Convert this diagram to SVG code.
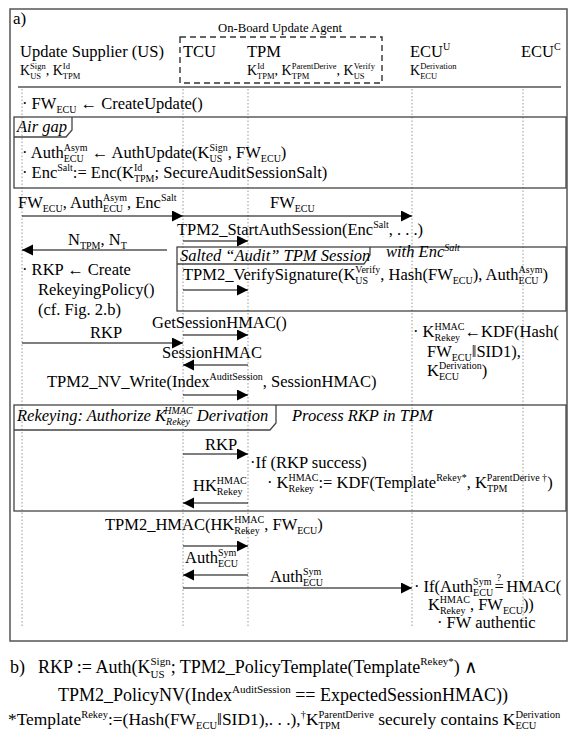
<svg xmlns="http://www.w3.org/2000/svg" width="579" height="745" viewBox="0 0 579 745">
<defs>
<style>
text { font-family: "Liberation Serif", "DejaVu Serif", serif; fill: #000; }
.m { font-size: 16.5px; }
.s { font-size: 10px; }
.h { font-size: 14px; }
.hs { font-size: 8.5px; }
.i { font-style: italic; }
.b { font-size: 18px; }
.bs { font-size: 11px; }
.f { font-size: 17.4px; }
.fs { font-size: 10.5px; }
.life { stroke: #999; stroke-width: 1; stroke-dasharray: 1.5 2; fill: none; }
.msg { stroke: #000; stroke-width: 1.2; fill: none; marker-end: url(#ah); }
.box { fill: none; stroke: #444; stroke-width: 1.3; }
</style>
<marker id="ah" markerUnits="userSpaceOnUse" markerWidth="12" markerHeight="12" refX="11" refY="5.5" orient="auto">
<path d="M0,0 L11,5.5 L0,11 z" fill="#000"/>
</marker>
</defs>
<rect width="579" height="745" fill="#fff"/>

<g id="frame">
<rect x="10" y="9" width="557" height="632" fill="none" stroke="#555" stroke-width="1.5"/>
<text class="m" x="13" y="24" style="font-size:17px">a)</text>
<line x1="18" y1="87" x2="561" y2="87" stroke="#000" stroke-width="1.2"/>
</g>

<g id="lifelines">
<line class="life" x1="22" y1="89" x2="22" y2="628"/>
<line class="life" x1="183" y1="89" x2="183" y2="628"/>
<line class="life" x1="248" y1="89" x2="248" y2="628"/>
<line class="life" x1="412" y1="89" x2="412" y2="628"/>
<line class="life" x1="523" y1="89" x2="523" y2="628"/>
</g>

<g id="node-us">
<text class="m" x="20" y="57">Update Supplier (US)</text>
<text class="h" x="20" y="75">K<tspan class="hs" dy="3.5">US</tspan><tspan class="hs" dx="-10.9" dy="-9.5">Sign</tspan><tspan dy="6">, K</tspan><tspan class="hs" dy="-6">Id</tspan><tspan class="hs" dx="-7.1" dy="9.5">TPM</tspan></text>
</g>

<g id="node-oba">
<rect x="180" y="37" width="202" height="46" fill="none" stroke="#333" stroke-width="1.4" stroke-dasharray="6 4"/>
<text x="218" y="32" style="font-size:12.7px">On-Board Update Agent</text>
</g>

<g id="node-tcu">
<text class="m" x="183" y="57">TCU</text>
</g>

<g id="node-tpm">
<text class="m" x="247" y="57">TPM</text>
<text class="h" x="247" y="75">K<tspan class="hs" dy="-6">Id</tspan><tspan class="hs" dx="-7.1" dy="9.5">TPM</tspan><tspan dy="-3.5">, K</tspan><tspan class="hs" dy="3.5">TPM</tspan><tspan class="hs" dx="-17.5" dy="-9.5">ParentDerive</tspan><tspan dy="6">, K</tspan><tspan class="hs" dy="3.5">US</tspan><tspan class="hs" dx="-10.9" dy="-9.5">Verify</tspan></text>
</g>

<g id="node-ecuu">
<text class="m" x="410" y="57">ECU<tspan class="s" dy="-7">U</tspan></text>
<text class="h" x="410" y="75">K<tspan class="hs" dy="3.5">ECU</tspan><tspan class="hs" dx="-17" dy="-9.5">Derivation</tspan></text>
</g>

<g id="node-ecuc">
<text class="m" x="521" y="57">ECU<tspan class="s" dy="-7">C</tspan></text>
</g>

<g id="step-create">
<text class="m" x="22" y="109">· FW<tspan class="s" dy="4">ECU</tspan><tspan dy="-4"> ← CreateUpdate()</tspan></text>
</g>

<g id="frame-airgap">
<rect class="box" x="14" y="117" width="552" height="71"/>
<path class="box" d="M14,137 H66 L72,130 V117"/>
<text class="m i" x="17" y="132">Air gap</text>
<text class="m" x="22" y="158">· Auth<tspan class="s" dy="4">ECU</tspan><tspan class="s" dx="-20" dy="-11">Asym</tspan><tspan dy="7"> ← AuthUpdate(K</tspan><tspan class="s" dy="4">US</tspan><tspan class="s" dx="-12.8" dy="-11">Sign</tspan><tspan dy="7">, FW</tspan><tspan class="s" dy="4">ECU</tspan><tspan dy="-4">)</tspan></text>
<text class="m" x="22" y="178">· Enc<tspan class="s" dy="-7">Salt</tspan><tspan dy="7">:= Enc(K</tspan><tspan class="s" dy="-7">Id</tspan><tspan class="s" dx="-8.3" dy="11">TPM</tspan><tspan dy="-4">; SecureAuditSessionSalt)</tspan></text>
</g>

<g id="frame-salted">
<rect class="box" x="177" y="247" width="389" height="64"/>
<path class="box" d="M177,264 H364 L370,255 V247"/>
<text class="m i" x="180" y="261">Salted “Audit” TPM Session</text>
<text class="m i" x="386" y="257">with Enc<tspan class="s" dy="-6.5">Salt</tspan></text>
</g>

<g id="step-rkp">
<text class="m" x="22" y="275">· RKP ← Create</text>
<text class="m" x="38" y="295">RekeyingPolicy()</text>
<text class="m" x="38" y="315">(cf. Fig. 2.b)</text>
</g>

<g id="step-kdf-ecu">
<text class="m" x="413" y="337">· K<tspan class="s" dy="4">Rekey</tspan><tspan class="s" dx="-25.6" dy="-11">HMAC</tspan><tspan dy="7">←KDF(Hash(</tspan></text>
<text class="m" x="427" y="357">FW<tspan class="s" dy="4">ECU</tspan><tspan dy="-4">‖SID1),</tspan></text>
<text class="m" x="427" y="376">K<tspan class="s" dy="4">ECU</tspan><tspan class="s" dx="-20" dy="-11">Derivation</tspan><tspan dy="7">)</tspan></text>
</g>

<g id="frame-rekeying">
<rect class="box" x="14" y="405" width="552" height="106"/>
<path class="box" d="M14,430 H270 L276,423 V405"/>
<text class="m i" x="17" y="421">Rekeying: Authorize K<tspan class="s" dy="4">Rekey</tspan><tspan class="s" dx="-25.6" dy="-11">HMAC</tspan><tspan dy="7"> Derivation</tspan></text>
<text class="m i" x="292" y="421">Process RKP in TPM</text>
<text class="m" x="250" y="468">·If (RKP success)</text>
<text class="m" x="267" y="488">· K<tspan class="s" dy="4">Rekey</tspan><tspan class="s" dx="-25.6" dy="-11">HMAC</tspan><tspan dy="7">:= KDF(Template</tspan><tspan class="s" dy="-7">Rekey*</tspan><tspan dy="7">, K</tspan><tspan class="s" dy="4">TPM</tspan><tspan class="s" dx="-20.6" dy="-11">ParentDerive †</tspan><tspan dy="7">)</tspan></text>
</g>

<g id="step-verify-ecu">
<text class="m" x="414" y="592">· If(Auth<tspan class="s" dy="4">ECU</tspan><tspan class="s" dx="-20" dy="-11">Sym</tspan><tspan dy="7" dx="3">=</tspan><tspan class="s" dx="-7" dy="-11">?</tspan><tspan dy="11" dx="5">HMAC(</tspan></text>
<text class="m" x="428" y="610">K<tspan class="s" dy="4">Rekey</tspan><tspan class="s" dx="-25.6" dy="-11">HMAC</tspan><tspan dy="7">, FW</tspan><tspan class="s" dy="4">ECU</tspan><tspan dy="-4">))</tspan></text>
<text class="m" x="437" y="628">· FW authentic</text>
</g>

<g id="connectors">
<line class="msg" x1="22" y1="216" x2="183" y2="216"/>
<text class="m" x="18" y="208">FW<tspan class="s" dy="4">ECU</tspan><tspan dy="-4">, Auth</tspan><tspan class="s" dy="4">ECU</tspan><tspan class="s" dx="-20" dy="-11">Asym</tspan><tspan dy="7">, Enc</tspan><tspan class="s" dy="-7">Salt</tspan></text>

<line class="msg" x1="183" y1="216" x2="412" y2="216"/>
<text class="m" x="270" y="208">FW<tspan class="s" dy="4">ECU</tspan></text>

<line class="msg" x1="183" y1="241" x2="248" y2="241"/>
<text class="m" x="177" y="235">TPM2_StartAuthSession(Enc<tspan class="s" dy="-7">Salt</tspan><tspan dy="7">, . . .)</tspan></text>

<line class="msg" x1="167" y1="250" x2="22" y2="250"/>
<text class="m" x="68" y="245">N<tspan class="s" dy="4">TPM</tspan><tspan dy="-4">, N</tspan><tspan class="s" dy="4">T</tspan></text>

<line class="msg" x1="183" y1="290" x2="248" y2="290"/>
<text class="m" x="183" y="280">TPM2_VerifySignature(K<tspan class="s" dy="4">US</tspan><tspan class="s" dx="-12.8" dy="-11">Verify</tspan><tspan dy="7">, Hash(FW</tspan><tspan class="s" dy="4">ECU</tspan><tspan dy="-4">), Auth</tspan><tspan class="s" dy="4">ECU</tspan><tspan class="s" dx="-20" dy="-11">Asym</tspan><tspan dy="7">)</tspan></text>

<line class="msg" x1="183" y1="335" x2="248" y2="335"/>
<text class="m" x="152" y="328">GetSessionHMAC()</text>

<line class="msg" x1="22" y1="343" x2="183" y2="343"/>
<text class="m" x="90" y="338">RKP</text>

<line class="msg" x1="248" y1="365" x2="183" y2="365"/>
<text class="m" x="162" y="358">SessionHMAC</text>

<line class="msg" x1="183" y1="395" x2="248" y2="395"/>
<text class="m" x="47" y="387">TPM2_NV_Write(Index<tspan class="s" dy="-7">AuditSession</tspan><tspan dy="7">, SessionHMAC)</tspan></text>

<line class="msg" x1="183" y1="454" x2="248" y2="454"/>
<text class="m" x="205" y="450">RKP</text>

<line class="msg" x1="248" y1="503" x2="183" y2="503"/>
<text class="m" x="193" y="491">HK<tspan class="s" dy="4">Rekey</tspan><tspan class="s" dx="-25.6" dy="-11">HMAC</tspan></text>

<line class="msg" x1="183" y1="546" x2="248" y2="546"/>
<text class="m" x="105" y="530">TPM2_HMAC(HK<tspan class="s" dy="4">Rekey</tspan><tspan class="s" dx="-25.6" dy="-11">HMAC</tspan><tspan dy="7">, FW</tspan><tspan class="s" dy="4">ECU</tspan><tspan dy="-4">)</tspan></text>

<line class="msg" x1="248" y1="575" x2="183" y2="575"/>
<text class="m" x="185" y="563">Auth<tspan class="s" dy="4">ECU</tspan><tspan class="s" dx="-20" dy="-11">Sym</tspan></text>

<line class="msg" x1="183" y1="588" x2="412" y2="588"/>
<text class="m" x="270" y="582">Auth<tspan class="s" dy="4">ECU</tspan><tspan class="s" dx="-20" dy="-11">Sym</tspan></text>
</g>

<g id="part-b">
<text class="b" x="10" y="673">b)</text>
<text class="b" x="38" y="673">RKP := Auth(K<tspan class="bs" dy="4.5">US</tspan><tspan class="bs" dx="-14.1" dy="-12.5">Sign</tspan><tspan dy="8">; TPM2_PolicyTemplate(Template</tspan><tspan class="bs" dy="-8">Rekey*</tspan><tspan dy="8">) ∧</tspan></text>
<text class="b" x="58" y="701">TPM2_PolicyNV(Index<tspan class="bs" dy="-8">AuditSession</tspan><tspan dy="8"> == ExpectedSessionHMAC))</tspan></text>
<text class="f" x="8" y="725">*Template<tspan class="fs" dy="-7">Rekey</tspan><tspan dy="7">:=(Hash(FW</tspan><tspan class="fs" dy="4">ECU</tspan><tspan dy="-4">‖SID1),. . .),</tspan><tspan class="fs" dy="-7">†</tspan><tspan dy="7">K</tspan><tspan class="fs" dy="4">TPM</tspan><tspan class="fs" dx="-21.6" dy="-11">ParentDerive</tspan><tspan dy="7"> securely contains K</tspan><tspan class="fs" dy="4">ECU</tspan><tspan class="fs" dx="-21" dy="-11">Derivation</tspan></text>
</g>
</svg>
